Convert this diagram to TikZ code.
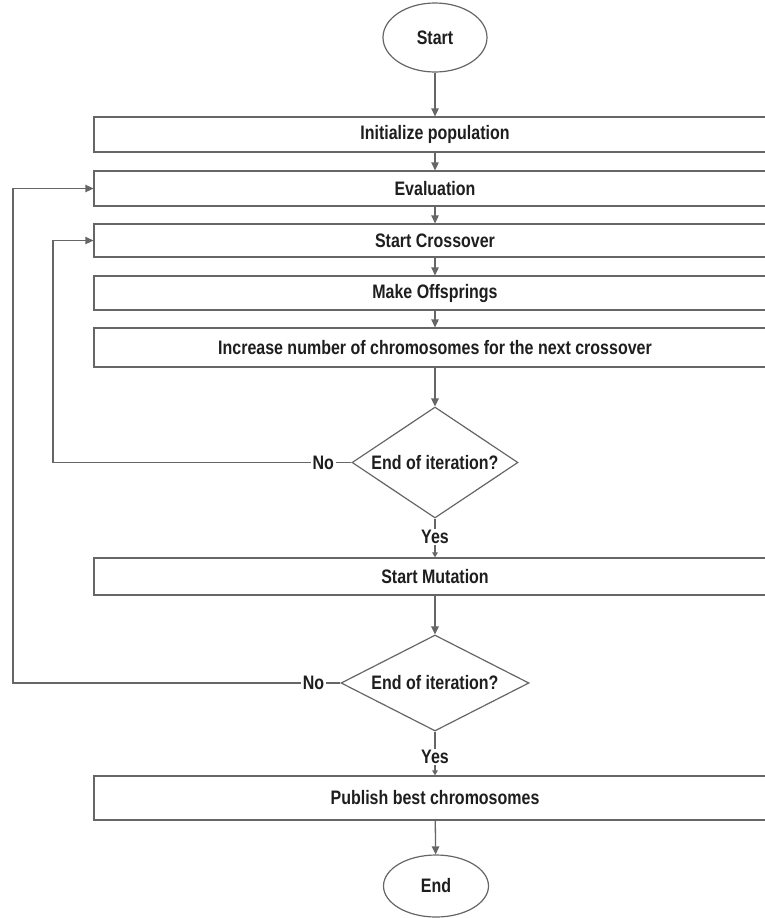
\documentclass[tikz,border=0pt]{standalone}
\usepackage{fontspec}
\setmainfont{Liberation Sans}[FakeStretch=0.82]
\usetikzlibrary{shapes.geometric,arrows.meta}

\definecolor{linec}{HTML}{666666}
\definecolor{textc}{HTML}{1E1E1E}

\tikzset{
  lbltext/.style={font=\fontsize{19.5}{22}\selectfont\bfseries, text=textc},
  term/.style={ellipse, draw=linec, line width=1.2pt, fill=white, inner sep=0pt, lbltext},
  stepbox/.style={rectangle, draw=linec, line width=1.3pt, fill=white, minimum width=682pt, inner sep=0pt, lbltext},
  decision/.style={diamond, draw=linec, line width=1.2pt, fill=white, inner sep=0pt, lbltext},
  lbl/.style={fill=white, inner sep=1.5pt, lbltext},
  conn/.style={draw=linec, line width=1.3pt, -{Triangle[length=8pt,width=7.5pt]}},
  plain/.style={draw=linec, line width=1.3pt},
  shortconn/.style={draw=linec, line width=1.3pt, -{Triangle[length=5pt,width=5.5pt]}}
}

\begin{document}
\begin{tikzpicture}[x=1pt,y=-1pt]
\useasboundingbox (0,0) rectangle (765,918);
\fill[white] (0,0) rectangle (765,918);

% terminals
\node[term, minimum width=104pt, minimum height=69pt] (start) at (435,37.5) {Start};
\node[term, minimum width=105pt, minimum height=62pt] (end) at (436,886) {End};

% process steps (boxes run past the right margin)
\node[stepbox, minimum height=35pt] (init) at (435,134.5) {Initialize population};
\node[stepbox, minimum height=35pt] (eval) at (435,188.5) {Evaluation};
\node[stepbox, minimum height=33pt] (cross) at (435,240.5) {Start Crossover};
\node[stepbox, minimum height=34pt] (off) at (435,293) {Make Offsprings};
\node[stepbox, minimum height=39pt] (inc) at (435,347.5) {Increase number of chromosomes for the next crossover};
\node[stepbox, minimum height=37pt] (mut) at (435,576.5) {Start Mutation};
\node[stepbox, minimum height=44pt] (pub) at (435,798) {Publish best chromosomes};

% decisions
\node[decision, aspect=1.5, minimum width=166pt, minimum height=111pt] (d1) at (435,462.5) {End of iteration?};
\node[decision, aspect=1.96, minimum width=188pt, minimum height=96pt] (d2) at (435,683) {End of iteration?};

% yes labels
\node[lbltext, inner sep=1pt] (yes1) at (435,537) {Yes};
\node[lbltext, inner sep=1pt] (yes2) at (435,757) {Yes};

% loop-back rails
\coordinate (rail1) at (53,0);
\coordinate (rail2) at (13,0);

% main flow
\draw[conn] (start) -- (init);
\draw[conn] (init) -- (eval);
\draw[conn] (eval) -- (cross);
\draw[conn] (cross) -- (off);
\draw[conn] (off) -- (inc);
\draw[conn] (inc) -- (d1);
\draw[plain] (d1.south) -- (yes1.north);
\draw[shortconn] (yes1.south) -- (mut.north);
\draw[conn] (mut) -- (d2);
\draw[plain] (d2.south) -- (yes2.north);
\draw[shortconn] (yes2.south) -- (pub.north);
\draw[conn] (pub) -- (end);

% "No" branches
\draw[conn] (d1.west) -- node[lbl, pos=0.094] {No} (d1.west -| rail1) |- (cross.west);
\draw[conn] (d2.west) -- node[lbl, pos=0.082] {No} (d2.west -| rail2) |- (eval.west);
\end{tikzpicture}
\end{document}
